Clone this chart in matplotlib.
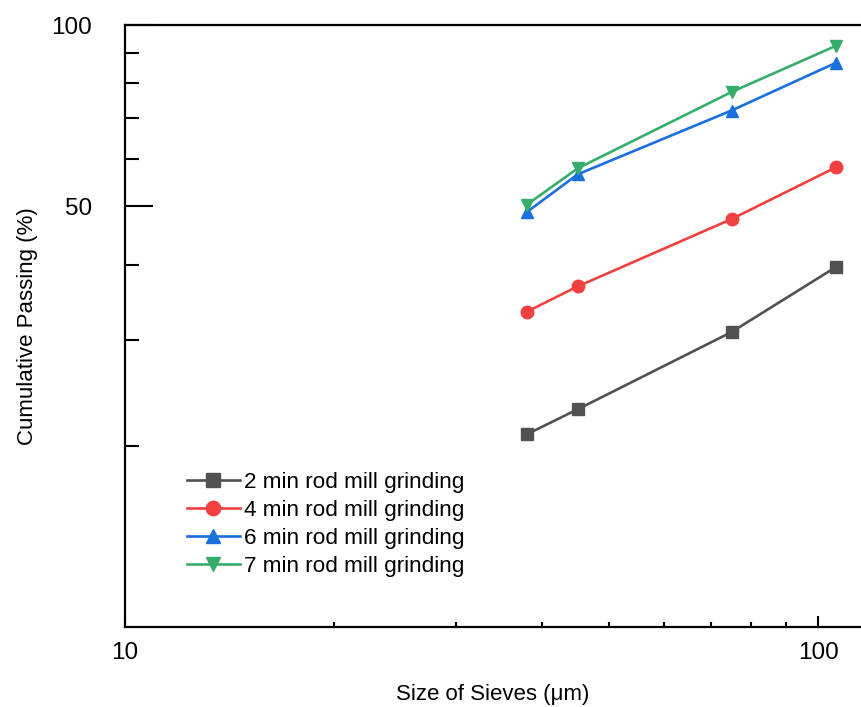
import matplotlib
matplotlib.use("Agg")
import matplotlib.pyplot as plt
from matplotlib.ticker import FixedLocator, NullFormatter, FixedFormatter

plt.rcParams["font.family"] = ["Liberation Sans", "DejaVu Sans"]

sizes = [38, 45, 75, 106]
p2 = [20.9, 23.0, 30.9, 39.6]
p4 = [33.4, 36.8, 47.6, 58.0]
p6 = [48.9, 56.5, 72.1, 86.5]
p7 = [50.3, 57.8, 77.4, 92.3]
labels = ["2 min rod mill grinding", "4 min rod mill grinding",
          "6 min rod mill grinding", "7 min rod mill grinding"]
colors = ["#515151", "#F14040", "#1A6FDF", "#37AD6B"]
markers = ["s", "o", "^", "v"]

fig = plt.figure(figsize=(8.61, 7.07), dpi=100)
ax = fig.add_axes([125/861, 1-627/707, 1-125/861, (627-25)/707])

for ys, c, m, lab in zip([p2, p4, p6, p7], colors, markers, labels):
    ax.plot(sizes, ys, "-", color=c, marker=m, lw=1.9, ms=9, label=lab)

ax.set_xscale("log"); ax.set_yscale("log")
ax.set_xlim(10, 115.3); ax.set_ylim(10, 100)

ax.xaxis.set_major_locator(FixedLocator([10, 100]))
ax.xaxis.set_major_formatter(FixedFormatter(["10", "100"]))
ax.xaxis.set_minor_locator(FixedLocator([20, 30, 40, 50, 60, 70, 80, 90]))
ax.xaxis.set_minor_formatter(NullFormatter())
ax.yaxis.set_major_locator(FixedLocator([50, 100]))
ax.yaxis.set_major_formatter(FixedFormatter(["50", "100"]))
ax.yaxis.set_minor_locator(FixedLocator([20, 30, 40, 60, 70, 80, 90]))
ax.yaxis.set_minor_formatter(NullFormatter())

ax.tick_params(axis="x", which="major", direction="in", length=8, width=1.5, pad=11, labelsize=17.5)
ax.tick_params(axis="x", which="minor", direction="in", length=3.6, width=1.5)
ax.tick_params(axis="y", which="major", direction="in", length=20, width=1.5, pad=24, labelsize=17.5)
ax.tick_params(axis="y", which="minor", direction="in", length=10, width=1.5)

for s in ["left", "bottom", "top"]:
    ax.spines[s].set_linewidth(1.6)
ax.spines["right"].set_visible(False)

ax.set_xlabel("Size of Sieves (μm)", fontsize=16, labelpad=14)
ax.set_ylabel("Cumulative Passing (%)", fontsize=16, labelpad=9)

ax.legend(loc="upper left", bbox_to_anchor=(0.072, 0.272), frameon=False, fontsize=16.2,
          handlelength=2.35, handletextpad=0.2, labelspacing=0.3, borderaxespad=0,
          markerscale=1.15)

fig.savefig("out.png", dpi=100)
